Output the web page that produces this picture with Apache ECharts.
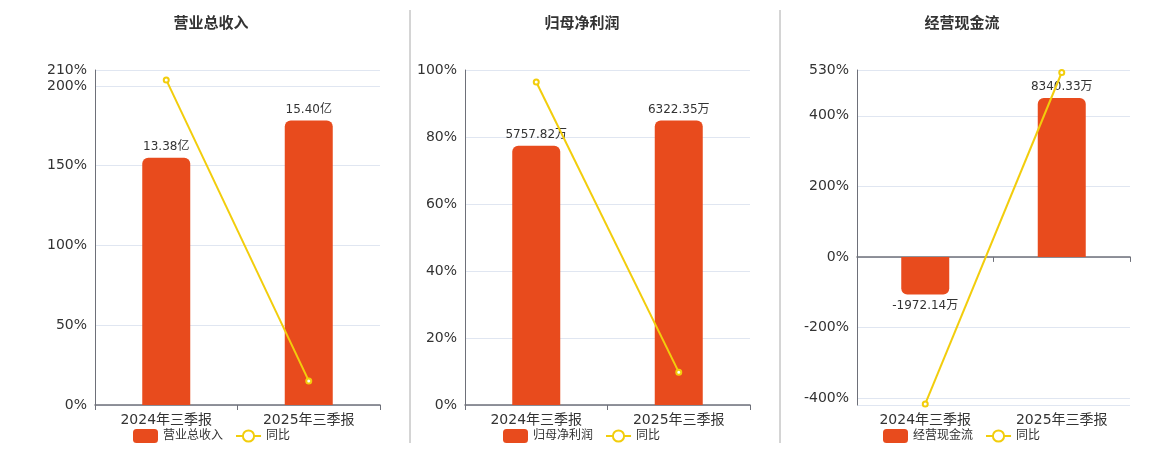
<!DOCTYPE html>
<html>
<head>
    <title>三季报</title>
    <meta charset="utf-8">
    <script type="text/javascript" src="https://cdn.jsdelivr.net/npm/echarts@6.0.0/dist/echarts.min.js"></script>
    <style>
        html, body { margin: 0; padding: 0; background: #fff; }
    </style>
</head>
<body>
    <div id="main" style="width: 1160px; height: 450px;"></div>
    <script type="text/javascript">
        const categories = ['2024年三季报', '2025年三季报'];
        const titles = ['营业总收入', '归母净利润', '经营现金流'];
        const units = ['亿', '万', '万'];

        const revenue = [13.38, 15.40];
        const revenueYoY = [203.8, 15.1];
        const profit = [5757.82, 6322.35];
        const profitYoY = [96.4, 9.8];
        const cashflow = [-1972.14, 8340.33];
        const cashflowYoY = [-417.0, 522.9];

        // percent axis ranges, as shown on the left axes
        const pctMin = [0, 0, -420];
        const pctMax = [210, 100, 530];

        const barData = [revenue, profit, cashflow];
        const yoyData = [revenueYoY, profitYoY, cashflowYoY];

        const barColor = '#E84B1D';
        const lineColor = '#F2CD0C';
        const textColor = '#333';
        const axisColor = '#6E7079';
        const font = "'DejaVu Sans', 'Noto Sans CJK SC', sans-serif";

        // panel layout
        const grids = [
            { left: 95, top: 70, width: 285, height: 335 },
            { left: 465, top: 70, width: 285, height: 335 },
            { left: 857, top: 70, width: 273, height: 335 }
        ];
        const centers = [206, 577, 957];
        const legendLeft = [128, 498, 878];

        const option = {
            animation: false,
            textStyle: { fontFamily: font },
            title: [], legend: [], grid: grids, xAxis: [], yAxis: [], series: [],
            graphic: [410, 780].map(x => ({
                type: 'line',
                shape: { x1: x, y1: 10, x2: x, y2: 443 },
                style: { stroke: '#aaa', lineWidth: 1 }
            }))
        };

        titles.forEach((name, i) => {
            option.title.push({
                text: name, left: centers[i], top: 12, textAlign: 'center',
                textStyle: { fontSize: 15, fontWeight: 'bold', color: textColor, fontFamily: font }
            });
            option.legend.push({
                left: legendLeft[i], top: 424, itemGap: 12,
                data: [name, '同比'],
                textStyle: { fontSize: 12, color: textColor, fontFamily: font }
            });
            option.xAxis.push({
                type: 'category', gridIndex: i, data: categories,
                axisLine: { lineStyle: { color: axisColor, width: 1.5 } },
                axisTick: { show: true, lineStyle: { color: axisColor } },
                axisLabel: { fontSize: 14, color: textColor, margin: 8, fontFamily: font }
            });
            const bars = barData[i];
            const maxAbs = Math.max(...bars.map(Math.abs));
            const bMax = maxAbs * 1.177;
            const bMin = bMax * pctMin[i] / pctMax[i];
            option.yAxis.push({
                type: 'value', gridIndex: i, min: pctMin[i], max: pctMax[i], splitNumber: 5,
                axisLine: { show: true, lineStyle: { color: axisColor } },
                axisTick: { show: false },
                axisLabel: { fontSize: 14, color: textColor, formatter: '{value}%', fontFamily: font },
                splitLine: { lineStyle: { color: '#E0E6F1' } }
            });
            option.yAxis.push({
                type: 'value', gridIndex: i, min: bMin, max: bMax, show: false,
                splitLine: { show: false }
            });
            option.series.push({
                name: name, type: 'bar', xAxisIndex: i, yAxisIndex: i * 2 + 1,
                barWidth: 48,
                itemStyle: { color: barColor },
                data: bars.map(v => ({
                    value: v,
                    itemStyle: { borderRadius: v < 0 ? [0, 0, 6, 6] : [6, 6, 0, 0] },
                    label: { show: true, position: v < 0 ? 'bottom' : 'top' }
                })),
                label: {
                    fontSize: 12, color: textColor, fontFamily: font,
                    formatter: p => p.value.toFixed(2) + units[i]
                }
            });
            option.series.push({
                name: '同比', type: 'line', xAxisIndex: i, yAxisIndex: i * 2,
                data: yoyData[i],
                symbol: 'emptyCircle', symbolSize: 5,
                lineStyle: { color: lineColor, width: 2 },
                itemStyle: { color: lineColor, borderWidth: 2 },
                z: 5
            });
        });

        const chart = echarts.init(document.getElementById('main'));
        chart.setOption(option);
    </script>
</body>
</html>
